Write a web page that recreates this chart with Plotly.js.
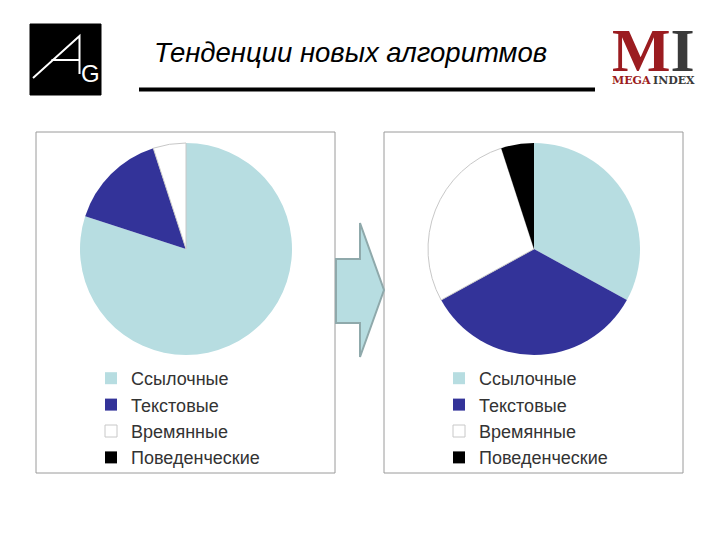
<!DOCTYPE html>
<html>
<head>
<meta charset="utf-8">
<script src="https://cdn.plot.ly/plotly-3.0.1.min.js"></script>
<style>html,body{margin:0;padding:0;background:#fff;}#chart{width:720px;height:540px;}</style>
</head>
<body>
<div id="chart"></div>
<script>
// ---- data ----
const categories = ["Ссылочные", "Текстовые", "Времянные", "Поведенческие"];
const beforeValues = [80, 15, 5, 0];
const afterValues = [33, 34, 28, 5];
const sliceColors = ["#b7dde1", "#333399", "#ffffff", "#000000"];
const chartTitle = "Тенденции новых алгоритмов";

const W = 720, H = 540;
const px = x => x / W;
const py = y => 1 - y / H;

function pieTrace(values, labels, cx, cy, r, legendName) {
  return {
    type: "pie",
    labels: labels,
    values: values,
    sort: false,
    direction: "clockwise",
    rotation: 0,
    textinfo: "none",
    hoverinfo: "label+percent",
    marker: {
      colors: sliceColors,
      line: { color: ["#b7dde1", "#333399", "#c8c8c8", "#000000"], width: [0, 0, 1, 0] }
    },
    domain: { x: [px(cx - r), px(cx + r)], y: [py(cy + r), py(cy - r)] },
    legend: legendName
  };
}

// second chart's legend needs its own keys (zero-width space keeps text identical)
const categoriesAfter = categories.map(c => c + "\u200B");

const data = [
  pieTrace(beforeValues, categories, 186, 249, 106, "legend"),
  pieTrace(afterValues, categoriesAfter, 534, 249, 106, "legend2")
];

const legendFont = { family: "Liberation Sans, Arial, sans-serif", size: 18, color: "#333333" };

function box(x0, y0, x1, y1) {
  return { type: "rect", xref: "paper", yref: "paper", x0: px(x0), x1: px(x1), y0: py(y1), y1: py(y0),
           line: { color: "#9a9a9a", width: 1 }, fillcolor: "rgba(0,0,0,0)", layer: "below" };
}
function path(points, opts) {
  const d = "M" + points.map(p => px(p[0]) + "," + py(p[1])).join(" L") + (opts.close ? " Z" : "");
  return Object.assign({ type: "path", xref: "paper", yref: "paper", path: d }, opts.style);
}

const shapes = [
  box(36, 132, 335, 473),
  box(384, 132, 683, 473),
  // arrow between charts
  path([[336, 259], [360, 259], [360, 223], [384, 290], [360, 357], [360, 323], [336, 323]],
       { close: true, style: { fillcolor: "#b7dde1", line: { color: "#8fa9ab", width: 2 } } }),
  // title underline
  { type: "line", xref: "paper", yref: "paper", x0: px(139), x1: px(595), y0: py(89.5), y1: py(89.5),
    line: { color: "#000000", width: 4 } },
  // AG logo background
  { type: "rect", xref: "paper", yref: "paper", x0: px(30), x1: px(101), y0: py(95), y1: py(24),
    fillcolor: "#000000", line: { color: "#000000", width: 1 } },
  path([[33, 78], [79.5, 36], [79.5, 74]], { close: false, style: { line: { color: "#ffffff", width: 2 } } }),
  path([[51.5, 60], [79.5, 60]], { close: false, style: { line: { color: "#ffffff", width: 2 } } })
];

const red = "#9b1c20", gray = "#3a3a3a";
const annotations = [
  { text: chartTitle, xref: "paper", yref: "paper", x: px(152), y: py(52), xanchor: "left", yanchor: "middle",
    showarrow: false, font: { family: "Liberation Sans, Arial, sans-serif", size: 27.5, style: "italic", color: "#000000" } },
  { text: "G", xref: "paper", yref: "paper", x: px(79), y: py(73), xanchor: "left", yanchor: "middle",
    showarrow: false, font: { family: "Liberation Sans, Arial, sans-serif", size: 24, color: "#ffffff" } },
  { text: "<span style='color:" + red + "'>M</span><span style='color:" + gray + "'>I</span>", xref: "paper", yref: "paper",
    x: px(610), y: py(50), xanchor: "left", yanchor: "middle", showarrow: false,
    font: { family: "Liberation Serif, Times New Roman, serif", size: 62, weight: "bold" } },
  { text: "MEGA", xref: "paper", yref: "paper", x: px(651.5), y: py(80.5), xanchor: "right", yanchor: "middle",
    showarrow: false, borderpad: 0, font: { family: "DejaVu Serif, serif", size: 11, weight: "bold", color: red } },
  { text: "INDEX", xref: "paper", yref: "paper", x: px(651.5), y: py(80.5), xanchor: "left", yanchor: "middle",
    showarrow: false, borderpad: 0, font: { family: "DejaVu Serif, serif", size: 11, weight: "bold", color: gray } }
];

const layout = {
  width: W, height: H,
  margin: { l: 0, r: 0, t: 0, b: 0 },
  paper_bgcolor: "#ffffff",
  showlegend: true,
  legend: { x: px(91), y: py(360), xanchor: "left", yanchor: "top", font: legendFont, bgcolor: "rgba(0,0,0,0)" },
  legend2: { x: px(439), y: py(360), xanchor: "left", yanchor: "top", font: legendFont, bgcolor: "rgba(0,0,0,0)" },
  shapes: shapes,
  annotations: annotations
};

Plotly.newPlot("chart", data, layout, { displayModeBar: false, staticPlot: true });
</script>
</body>
</html>
